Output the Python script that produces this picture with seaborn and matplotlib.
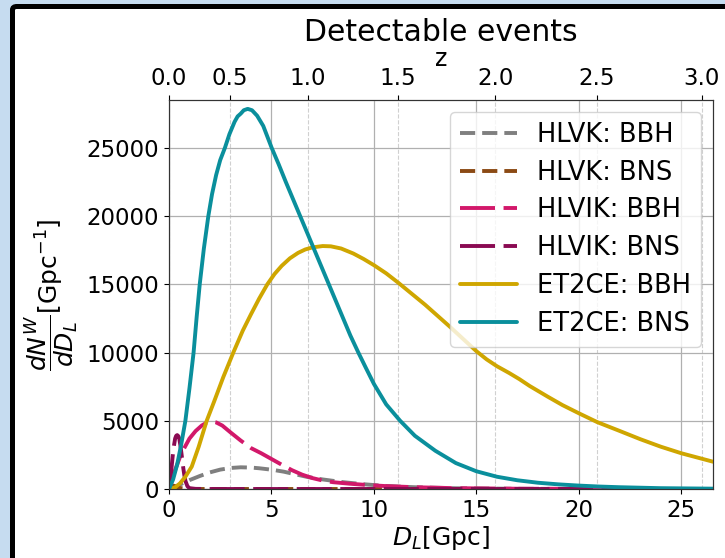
import numpy as np
import pandas as pd
import matplotlib
matplotlib.use("Agg")
import matplotlib.pyplot as plt
import seaborn as sns
from matplotlib.patches import FancyBboxPatch

# luminosity distance [Gpc] and dN/dD_L [Gpc^-1]
hlvk_bbh_x = [0, 0.5, 1.0, 1.5, 2.0, 2.5, 3.0, 3.5, 4.0, 4.4, 4.8, 5.2, 5.6, 6.1, 6.7, 7.5, 8.5, 9.5,
              10.5, 12, 14, 17, 20, 26.55]
hlvk_bbh_y = [0, 300, 650, 950, 1220, 1420, 1540, 1590, 1570, 1520, 1450, 1370, 1270, 1100, 900, 700,
              500, 350, 230, 130, 55, 15, 5, 0]

hlvk_bns_x = [0, 0.1, 0.2, 0.3, 0.5, 0.8, 1.2, 26.55]
hlvk_bns_y = [0, 150, 250, 200, 80, 20, 0, 0]

hlvik_bbh_x = [0, 0.3, 0.6, 1.0, 1.3, 1.6, 1.85, 2.08, 2.3, 2.6, 3.0, 3.5, 4.0, 4.5, 5.0, 5.5, 6.0, 6.5,
               7.0, 7.5, 8.0, 8.8, 9.6, 10.5, 12, 14, 17, 20, 26.55]
hlvik_bbh_y = [0, 1400, 2600, 3700, 4250, 4650, 4870, 4940, 4880, 4650, 4150, 3550, 3000, 2620, 2200,
               1780, 1380, 1050, 800, 620, 500, 390, 300, 220, 130, 60, 20, 5, 0]

hlvik_bns_x = [0, 0.05, 0.1, 0.15, 0.2, 0.25, 0.3, 0.35, 0.4, 0.45, 0.5, 0.55, 0.6, 0.65, 0.7, 0.75,
               0.8, 0.9, 1.0, 1.3, 2.0, 26.55]
hlvik_bns_y = [0, 500, 1200, 1950, 2700, 3250, 3700, 3900, 3950, 3880, 3700, 3250, 2700, 2100, 1500,
               1000, 600, 200, 60, 10, 0, 0]

et_bbh_x = [0, 0.3, 0.54, 0.8, 1.11, 1.45, 1.84, 2.2, 2.65, 3.14, 3.6, 4.0, 4.4, 4.8, 5.15, 5.5, 5.9,
            6.3, 6.65, 7.0, 7.5, 7.9, 8.4, 9.0, 9.5, 10.0, 10.6, 11.2, 11.85, 12.5, 13.1, 13.7, 14.35,
            15.0, 15.5, 16.0, 16.6, 17.1, 17.6, 18.5, 19.2, 20.0, 20.9, 22, 23, 24, 25, 26.55]
et_bbh_y = [0, 120, 420, 900, 1640, 3100, 5000, 6400, 8200, 10000, 11600, 12800, 13950, 15000, 15750,
            16350, 16900, 17300, 17550, 17700, 17800, 17780, 17620, 17250, 16850, 16400, 15800, 15100,
            14300, 13500, 12700, 11900, 11000, 10100, 9500, 9000, 8500, 8050, 7550, 6750, 6150, 5550,
            4900, 4250, 3650, 3100, 2620, 2000]

et_bns_x = [0, 0.2, 0.4, 0.6, 0.8, 1.0, 1.2, 1.35, 1.5, 1.7, 1.92, 2.1, 2.3, 2.5, 2.73, 2.95, 3.2, 3.35,
            3.5, 3.65, 3.84, 4.05, 4.3, 4.6, 5.01, 5.35, 5.7, 6.05, 6.4, 6.75, 7.1, 7.45, 7.8, 8.15, 8.5,
            8.85, 9.24, 9.6, 10.0, 10.6, 11.28, 12, 13, 14, 15, 16, 17, 18, 19, 20, 21, 22, 24, 26.55]
et_bns_y = [0, 700, 1800, 3300, 5000, 7400, 10000, 12600, 15000, 17600, 20000, 21600, 23000, 24100,
            25000, 26000, 26900, 27300, 27500, 27750, 27850, 27750, 27350, 26600, 25000, 23800, 22500,
            21250, 20000, 18750, 17500, 16250, 15000, 13750, 12500, 11250, 10000, 8900, 7700, 6200, 5000,
            3900, 2800, 1900, 1300, 900, 640, 460, 340, 250, 180, 130, 60, 25]

labels = ["HLVK: BBH", "HLVK: BNS", "HLVIK: BBH", "HLVIK: BNS", "ET2CE: BBH", "ET2CE: BNS"]
colors = ["#7f7f7f", "#8b4a14", "#d2186a", "#8a0a52", "#cfa600", "#0a8f9c"]
styles = [(0, (3.9, 1.8)), (0, (3.9, 1.8)), (0, (9, 2.2)), (0, (9, 2.2)), "-", "-"]

# redshift ticks for the top axis and where they sit in D_L
z_labels = ["0.0", "0.5", "1.0", "1.5", "2.0", "2.5", "3.0"]
z_dl = [0.0, 2.96, 6.78, 11.18, 15.93, 20.89, 25.99]

series = [(hlvk_bbh_x, hlvk_bbh_y), (hlvk_bns_x, hlvk_bns_y), (hlvik_bbh_x, hlvik_bbh_y),
          (hlvik_bns_x, hlvik_bns_y), (et_bbh_x, et_bbh_y), (et_bns_x, et_bns_y)]

sns.set_style("ticks")
plt.rcParams["font.family"] = ["DejaVu Sans"]
plt.rcParams.update({"text.color": "black", "axes.labelcolor": "black",
                     "xtick.color": "black", "ytick.color": "black"})

fig = plt.figure(figsize=(7.25, 5.58), dpi=100)
fig.patch.set_facecolor("#c6dcf0")
frame = FancyBboxPatch((12.5 / 725, -0.1), 1.1, 1.1 - 6.5 / 558,
                       boxstyle="round,pad=0,rounding_size=0.006",
                       transform=fig.transFigure, facecolor="white",
                       edgecolor="black", linewidth=3.6, zorder=-5)
fig.patches.append(frame)

ax = fig.add_axes([169 / 725, 1 - 489 / 558, (713 - 169) / 725, (489 - 100) / 558])
ax2 = ax.twiny()
ax.set_zorder(ax2.get_zorder() + 1)
ax.patch.set_visible(False)

for (xs, ys), lab, col, ls in zip(series, labels, colors, styles):
    df = pd.DataFrame({"DL": xs, "N": ys})
    sns.lineplot(data=df, x="DL", y="N", ax=ax, color=col, lw=2.8, linestyle=ls, label=lab)

ax.set_xlim(0, 26.55)
ax.set_ylim(0, 28500)
ax.set_xticks([0, 5, 10, 15, 20, 25])
ax.set_yticks([0, 5000, 10000, 15000, 20000, 25000])
ax.grid(True, color="#b0b0b0", lw=0.9)
ax.tick_params(labelsize=16.5)
ax.set_xlabel(r"$D_L$[Gpc]", fontsize=18, labelpad=2)
ax.set_ylabel(r"$\dfrac{dN^W}{dD_L}$[Gpc$^{-1}$]", fontsize=18, labelpad=4)
for s in ax.spines.values():
    s.set_color("#333333")

ax2.set_xlim(ax.get_xlim())
ax2.set_xticks(z_dl)
ax2.set_xticklabels(z_labels)
ax2.tick_params(labelsize=16.5)
ax2.grid(True, axis="x", color="#d0d0d0", ls="--", lw=0.8)
ax2.set_xlabel("z", fontsize=17, labelpad=1)
ax2.set_title("Detectable events", fontsize=21.5, pad=4)
for s in ax2.spines.values():
    s.set_color("#333333")

leg = ax.legend(loc="upper right", fontsize=18.5, frameon=True, handlelength=2.2,
                borderaxespad=0.45, labelspacing=0.46)
for h in leg.get_lines():
    h.set_linewidth(2.8)

fig.savefig("out.png", dpi=100, facecolor=fig.get_facecolor())
